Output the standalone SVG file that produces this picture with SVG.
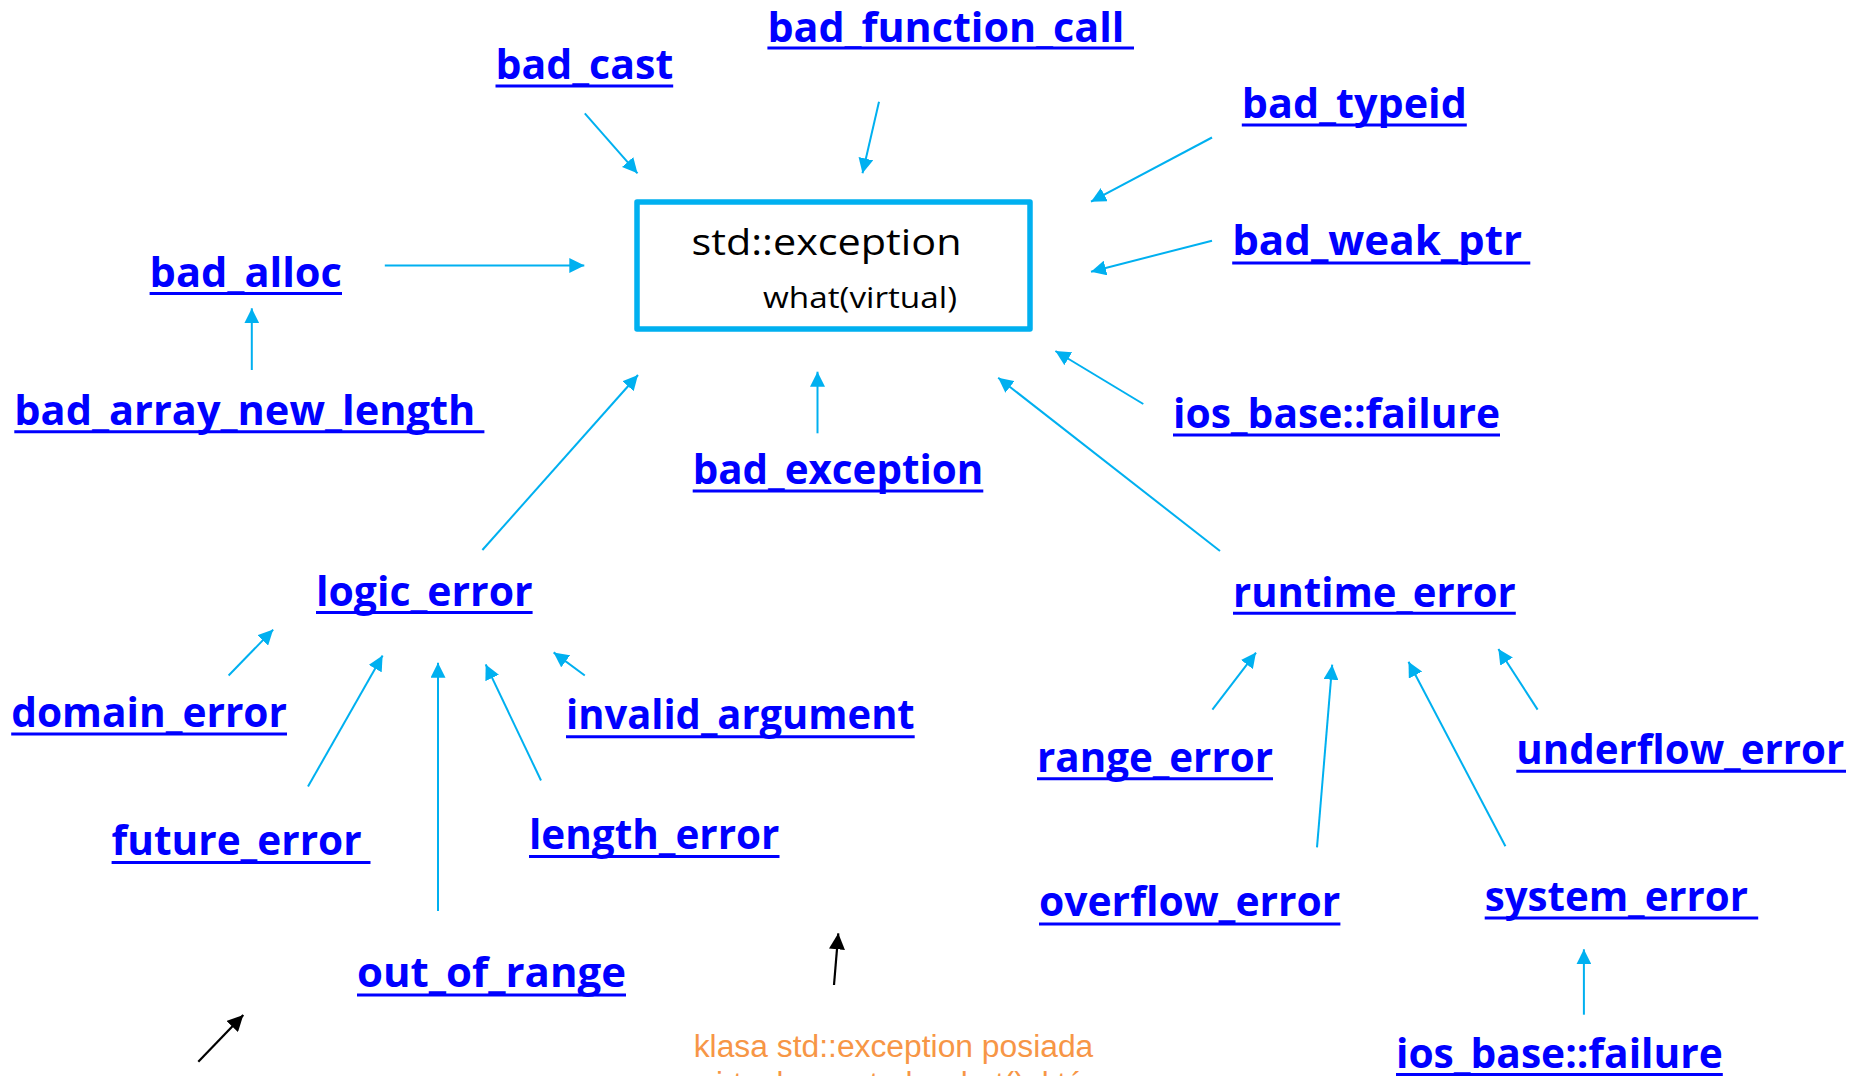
<svg xmlns="http://www.w3.org/2000/svg" width="1854" height="1076" viewBox="0 0 1854 1076">
  <defs>
    <style>
      .lbl{font-family:"Open Sans","Noto Sans","DejaVu Sans",sans-serif;font-weight:700;font-size:42px;fill:#0000FF}
      .ul{stroke:#0000FF;stroke-width:3}
      .c{stroke:#00B0F0;stroke-width:2;fill:none;marker-end:url(#ah)}
      .k{stroke:#000;stroke-width:2.2;fill:none;marker-end:url(#ahk)}
      .box{fill:#fff;stroke:#00B0F0;stroke-width:5.5;stroke-linejoin:round}
      .cls{font-family:"Open Sans","Noto Sans","DejaVu Sans",sans-serif;fill:#000}
      .note{font-family:"Liberation Sans",Arial,sans-serif;font-size:31px;fill:#F79646}
    </style>
    <marker id="ah" viewBox="0 0 15 15" refX="15" refY="7.5" markerWidth="15" markerHeight="15" markerUnits="userSpaceOnUse" orient="auto">
      <path d="M0,0 L15,7.5 L0,15 z" fill="#00B0F0"/>
    </marker>
    <marker id="ahk" viewBox="0 0 15 15" refX="15" refY="7.5" markerWidth="16" markerHeight="16" markerUnits="userSpaceOnUse" orient="auto">
      <path d="M0,0 L15,7.5 L0,15 z" fill="#000"/>
    </marker>
  </defs>
  <rect width="1854" height="1076" fill="#fff"/>

  <!-- base class -->
  <g id="std_exception">
    <rect class="box" x="637" y="202" width="393" height="127"/>
    <text class="cls" x="691.5" y="255" font-size="37" textLength="270" lengthAdjust="spacingAndGlyphs">std::exception</text>
    <text class="cls" x="763" y="308" font-size="30" textLength="194" lengthAdjust="spacingAndGlyphs">what(virtual)</text>
  </g>

  <!-- derived classes -->
  <g id="bad_function_call">
    <text class="lbl" x="767.4" y="42" textLength="357" lengthAdjust="spacingAndGlyphs">bad_function_call</text>
    <line class="ul" x1="767.4" y1="48" x2="1134" y2="48"/>
  </g>
  <g id="bad_cast">
    <text class="lbl" x="495.5" y="79" textLength="177.7" lengthAdjust="spacingAndGlyphs">bad_cast</text>
    <line class="ul" x1="495.5" y1="86" x2="673.2" y2="86"/>
  </g>
  <g id="bad_typeid">
    <text class="lbl" x="1241.8" y="117.5" textLength="225" lengthAdjust="spacingAndGlyphs">bad_typeid</text>
    <line class="ul" x1="1241.8" y1="125" x2="1466.8" y2="125"/>
  </g>
  <g id="bad_alloc">
    <text class="lbl" x="149.6" y="287" textLength="192.4" lengthAdjust="spacingAndGlyphs">bad_alloc</text>
    <line class="ul" x1="149.6" y1="293.5" x2="342" y2="293.5"/>
  </g>
  <g id="bad_weak_ptr">
    <text class="lbl" x="1232.2" y="255" textLength="290" lengthAdjust="spacingAndGlyphs">bad_weak_ptr</text>
    <line class="ul" x1="1232.2" y1="263" x2="1530.3" y2="263"/>
  </g>
  <g id="bad_array_new_length">
    <text class="lbl" x="14.3" y="425" textLength="461" lengthAdjust="spacingAndGlyphs">bad_array_new_length</text>
    <line class="ul" x1="14.3" y1="431.7" x2="484.4" y2="431.7"/>
  </g>
  <g id="ios_base_failure">
    <text class="lbl" x="1173" y="427.7" textLength="327" lengthAdjust="spacingAndGlyphs">ios_base::failure</text>
    <line class="ul" x1="1173" y1="435" x2="1500" y2="435"/>
  </g>
  <g id="bad_exception">
    <text class="lbl" x="692.7" y="484" textLength="290.6" lengthAdjust="spacingAndGlyphs">bad_exception</text>
    <line class="ul" x1="692.7" y1="491" x2="983.3" y2="491"/>
  </g>
  <g id="logic_error">
    <text class="lbl" x="316" y="605.7" textLength="216.6" lengthAdjust="spacingAndGlyphs">logic_error</text>
    <line class="ul" x1="316" y1="612.5" x2="532.6" y2="612.5"/>
  </g>
  <g id="runtime_error">
    <text class="lbl" x="1233" y="606.6" textLength="282.8" lengthAdjust="spacingAndGlyphs">runtime_error</text>
    <line class="ul" x1="1233" y1="613.2" x2="1515.8" y2="613.2"/>
  </g>
  <g id="domain_error">
    <text class="lbl" x="11.2" y="726.6" textLength="275.8" lengthAdjust="spacingAndGlyphs">domain_error</text>
    <line class="ul" x1="11.2" y1="734" x2="287" y2="734"/>
  </g>
  <g id="invalid_argument">
    <text class="lbl" x="566" y="729.3" textLength="348.7" lengthAdjust="spacingAndGlyphs">invalid_argument</text>
    <line class="ul" x1="566" y1="736.7" x2="914.7" y2="736.7"/>
  </g>
  <g id="future_error">
    <text class="lbl" x="111.6" y="855.2" textLength="250" lengthAdjust="spacingAndGlyphs">future_error</text>
    <line class="ul" x1="111.6" y1="862.4" x2="370.5" y2="862.4"/>
  </g>
  <g id="length_error">
    <text class="lbl" x="529" y="849" textLength="250.5" lengthAdjust="spacingAndGlyphs">length_error</text>
    <line class="ul" x1="529" y1="856.5" x2="779.5" y2="856.5"/>
  </g>
  <g id="out_of_range">
    <text class="lbl" x="357" y="987" textLength="269" lengthAdjust="spacingAndGlyphs">out_of_range</text>
    <line class="ul" x1="357" y1="995" x2="626" y2="995"/>
  </g>
  <g id="range_error">
    <text class="lbl" x="1037" y="771.5" textLength="236" lengthAdjust="spacingAndGlyphs">range_error</text>
    <line class="ul" x1="1037" y1="778.8" x2="1273" y2="778.8"/>
  </g>
  <g id="underflow_error">
    <text class="lbl" x="1516.3" y="764" textLength="328" lengthAdjust="spacingAndGlyphs">underflow_error</text>
    <line class="ul" x1="1516.3" y1="771.3" x2="1846" y2="771.3"/>
  </g>
  <g id="overflow_error">
    <text class="lbl" x="1039" y="916" textLength="301.4" lengthAdjust="spacingAndGlyphs">overflow_error</text>
    <line class="ul" x1="1039" y1="924" x2="1340.4" y2="924"/>
  </g>
  <g id="system_error">
    <text class="lbl" x="1484.7" y="911" textLength="263.3" lengthAdjust="spacingAndGlyphs">system_error</text>
    <line class="ul" x1="1484.7" y1="918" x2="1758.2" y2="918"/>
  </g>
  <g id="ios_base_failure_2">
    <text class="lbl" x="1396" y="1068" textLength="326.8" lengthAdjust="spacingAndGlyphs">ios_base::failure</text>
    <line class="ul" x1="1396" y1="1074.5" x2="1722.8" y2="1074.5"/>
  </g>

  <!-- inheritance arrows -->
  <g id="connectors">
    <path class="c" d="M584.8,113.3 L637.5,173.3"/>
    <path class="c" d="M879,101.7 L862.5,173.3"/>
    <path class="c" d="M1212,137.5 L1091,201.7"/>
    <path class="c" d="M1212,240.7 L1091,271.7"/>
    <path class="c" d="M384.8,265.5 L584.3,265.5"/>
    <path class="c" d="M251.8,370 L251.8,308.3"/>
    <path class="c" d="M1143.3,404 L1055.4,351"/>
    <path class="c" d="M817.5,433.3 L817.5,371.7"/>
    <path class="c" d="M482.4,550 L638,375"/>
    <path class="c" d="M1220,551 L998.2,377.7"/>
    <path class="c" d="M228.6,675.5 L273.2,629.6"/>
    <path class="c" d="M308,786.5 L382.6,655.6"/>
    <path class="c" d="M438,911 L438,662.8"/>
    <path class="c" d="M541,780.5 L485.7,664.4"/>
    <path class="c" d="M584.8,675.5 L553.6,652.4"/>
    <path class="c" d="M1212.4,709.6 L1256,652.6"/>
    <path class="c" d="M1317,847.4 L1332.2,664.7"/>
    <path class="c" d="M1505.4,846.3 L1408.5,661.8"/>
    <path class="c" d="M1537.6,709.6 L1498.4,649"/>
    <path class="c" d="M1583.9,1014.7 L1583.9,949.3"/>
    <path class="k" d="M198.3,1061.7 L243.3,1015"/>
    <path class="k" d="M834,985 L838.3,933.3"/>
  </g>

  <!-- note -->
  <g id="note">
    <text class="note" x="693.7" y="1056.7" textLength="399.6" lengthAdjust="spacingAndGlyphs">klasa std::exception posiada</text>
    <text class="note" x="693.7" y="1093.5">wirtualną metodę what(), która</text>
  </g>
</svg>
